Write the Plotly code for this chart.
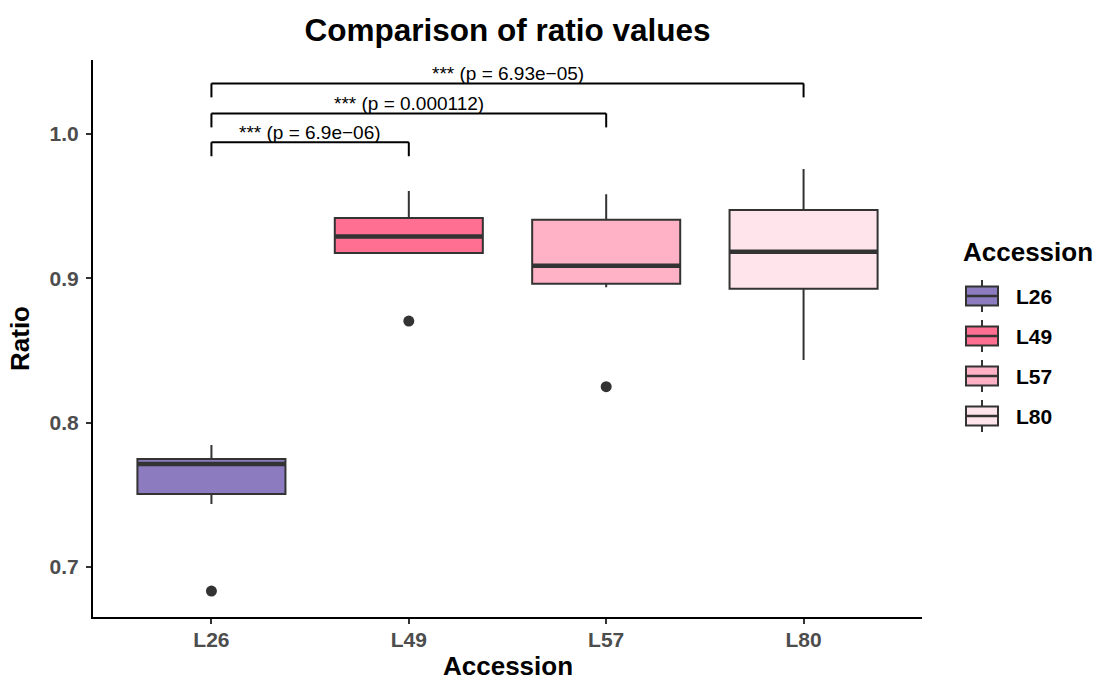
import plotly.graph_objects as go

# ---- data ----
categories = ["L26", "L49", "L57", "L80"]
q1 = [0.7505, 0.9175, 0.8963, 0.8928]
median = [0.7713, 0.9290, 0.9088, 0.9184]
q3 = [0.7748, 0.9418, 0.9406, 0.9473]
lower_fence = [0.7436, 0.9168, 0.8938, 0.8434]
upper_fence = [0.7845, 0.9605, 0.9582, 0.9757]
outlier_cat = ["L26", "L49", "L57"]
outlier_val = [0.6833, 0.8704, 0.8249]
fill_colors = ["#8C7BBE", "#FF6F91", "#FFB2C6", "#FFE4EC"]

comp_from = ["L26", "L26", "L26"]
comp_to = ["L49", "L57", "L80"]
comp_label = ["*** (p = 6.9e\u221206)", "*** (p = 0.000112)", "*** (p = 6.93e\u221205)"]
comp_y = [0.9943, 1.0143, 1.0351]
tip_len = 0.0097

FONT = "Liberation Sans, Arial, Helvetica, sans-serif"
LINE = "#333333"
BOX_W = 0.75

pos = {c: i + 1 for i, c in enumerate(categories)}

fig = go.Figure()
for i, c in enumerate(categories):
    fig.add_trace(go.Box(
        x=[pos[c]], q1=[q1[i]], median=[median[i]], q3=[q3[i]],
        lowerfence=[lower_fence[i]], upperfence=[upper_fence[i]],
        name=c, width=BOX_W, whiskerwidth=0, fillcolor=fill_colors[i],
        line=dict(color=LINE, width=2), boxpoints=False,
        showlegend=False, hoverinfo="skip",
    ))

fig.add_trace(go.Scatter(
    x=[pos[c] for c in outlier_cat], y=outlier_val, mode="markers",
    marker=dict(color=LINE, size=11), showlegend=False, hoverinfo="skip",
))

shapes = []
# thick median lines (ggplot style)
for i, c in enumerate(categories):
    shapes.append(dict(type="line", xref="x", yref="y",
                       x0=pos[c] - BOX_W / 2, x1=pos[c] + BOX_W / 2,
                       y0=median[i], y1=median[i],
                       line=dict(color=LINE, width=4.5)))

annotations = []
# significance brackets
for a, b, lab, y in zip(comp_from, comp_to, comp_label, comp_y):
    xa, xb = pos[a], pos[b]
    shapes.append(dict(type="line", xref="x", yref="y", x0=xa, x1=xb, y0=y, y1=y,
                       line=dict(color="black", width=2)))
    shapes.append(dict(type="line", xref="x", yref="y", x0=xa, x1=xa, y0=y, y1=y - tip_len,
                       line=dict(color="black", width=2)))
    shapes.append(dict(type="line", xref="x", yref="y", x0=xb, x1=xb, y0=y, y1=y - tip_len,
                       line=dict(color="black", width=2)))
    annotations.append(dict(x=(xa + xb) / 2, y=y, xref="x", yref="y", text=lab,
                            showarrow=False, yanchor="bottom", yshift=-3,
                            font=dict(family=FONT, size=19, color="black")))

# ---- layout helpers (pixel layout -> paper coords) ----
W, H = 1094, 680
ML, MR, MT, MB = 93, 172, 60, 63
PW, PH = W - ML - MR, H - MT - MB


def px(xp):
    return (xp - ML) / PW


def py(yp):
    return (H - MB - yp) / PH


# x-axis title (placed as annotation so it may sit near the page's bottom edge)
annotations.append(dict(x=0.5, y=py(666), xref="paper", yref="paper",
                        text="<b>Accession</b>", showarrow=False,
                        xanchor="center", yanchor="middle",
                        font=dict(family=FONT, size=26, color="black")))

# custom ggplot-like legend
annotations.append(dict(x=px(961), y=py(252), xref="paper", yref="paper",
                        text="<b>Accession</b>", showarrow=False,
                        xanchor="left", yanchor="middle",
                        font=dict(family=FONT, size=26, color="black")))
row_y = [296, 336, 376, 416]
for i, c in enumerate(categories):
    cy = row_y[i]
    shapes.append(dict(type="line", xref="paper", yref="paper",
                       x0=px(982), x1=px(982), y0=py(cy - 16), y1=py(cy + 16),
                       line=dict(color=LINE, width=2)))
    shapes.append(dict(type="rect", xref="paper", yref="paper",
                       x0=px(966), x1=px(998), y0=py(cy - 9.5), y1=py(cy + 9.5),
                       fillcolor=fill_colors[i], line=dict(color=LINE, width=2)))
    shapes.append(dict(type="line", xref="paper", yref="paper",
                       x0=px(966), x1=px(998), y0=py(cy), y1=py(cy),
                       line=dict(color=LINE, width=2.5)))
    annotations.append(dict(x=px(1014), y=py(cy), xref="paper", yref="paper",
                            text="<b>%s</b>" % c, showarrow=False,
                            xanchor="left", yanchor="middle",
                            font=dict(family=FONT, size=21, color="black")))

fig.update_layout(
    width=W, height=H,
    margin=dict(l=ML, r=MR, t=MT, b=MB),
    paper_bgcolor="white", plot_bgcolor="white",
    boxmode="overlay",
    title=dict(text="<b>Comparison of ratio values</b>", x=(ML + PW / 2) / W, xanchor="center",
               y=1 - 30 / H, yanchor="middle",
               font=dict(family=FONT, size=31.5, color="black")),
    xaxis=dict(range=[0.4, 4.6], tickvals=[pos[c] for c in categories], ticktext=categories,
               automargin=False,
               showline=True, linecolor="black", linewidth=2, showgrid=False, zeroline=False,
               ticks="outside", ticklen=5, tickwidth=2, tickcolor=LINE, ticklabelstandoff=-2,
               tickfont=dict(family=FONT, size=21, color="#4D4D4D", weight="bold")),
    yaxis=dict(range=[0.6653, 1.0513], tickvals=[0.7, 0.8, 0.9, 1.0],
               ticktext=["0.7", "0.8", "0.9", "1.0"],
               automargin=False,
               showline=True, linecolor="black", linewidth=2, showgrid=False, zeroline=False,
               ticks="outside", ticklen=5, tickwidth=2, tickcolor=LINE, ticklabelstandoff=3,
               tickfont=dict(family=FONT, size=21, color="#4D4D4D", weight="bold"),
               title=dict(text="<b>Ratio</b>", standoff=12,
                          font=dict(family=FONT, size=26, color="black"))),
    shapes=shapes,
    annotations=annotations,
)

fig.write_html("out.html")
